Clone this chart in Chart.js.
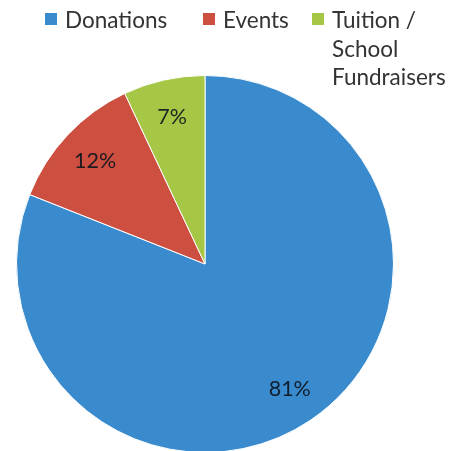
<!DOCTYPE html>
<html>
<head>
<meta charset="utf-8">
<script src="https://cdn.jsdelivr.net/npm/chart.js@4.4.1/dist/chart.umd.min.js"></script>
<style>
  html, body { margin: 0; padding: 0; background: #fff; overflow: hidden; }
  #wrap { position: relative; width: 453px; height: 460px; }
  #legend { position: absolute; left: 0; top: 0; font-family: Lato, sans-serif; font-size: 22.5px; color: #333; }
  #legend ul { list-style: none; margin: 0; padding: 0; }
  #legend li { position: absolute; white-space: nowrap; }
  #legend .box { position: absolute; left: 0; top: 0; width: 12px; height: 12px; }
  #legend p { margin: 0; position: absolute; left: 20px; top: -7px; line-height: 28.5px; }
</style>
</head>
<body>
<div id="wrap">
  <canvas id="chartPie" width="453" height="460"></canvas>
  <div id="legend"></div>
</div>
<script>
const labels = ["Donations", "Events", "Tuition / School Fundraisers"];
const legendLines = [["Donations"], ["Events"], ["Tuition /", "School", "Fundraisers"]];
const shares = [81, 12, 7];
const sliceColors = ["#3a8bcd", "#cd4f40", "#a6c645"];

// legend item positions (left, top of the colour box) in px
const legendPos = [[45, 13], [203, 13], [312, 13]];

const buildLegend = function () {
    const ul = document.createElement('ul');
    labels.forEach((item, i) => {
        const li = document.createElement('li');
        li.style.left = legendPos[i][0] + 'px';
        li.style.top = legendPos[i][1] + 'px';

        const boxSpan = document.createElement('span');
        boxSpan.classList = "box";
        boxSpan.style.background = sliceColors[i];

        const textContainer = document.createElement('p');
        textContainer.innerHTML = legendLines[i].join('<br>');

        li.appendChild(boxSpan);
        li.appendChild(textContainer);
        ul.appendChild(li);
    });
    document.getElementById('legend').appendChild(ul);
};

// draws "81%" etc inside each slice
const sliceLabelPlugin = {
    id: 'sliceLabels',
    afterDatasetsDraw(chart) {
        const ctx = chart.ctx;
        const meta = chart.getDatasetMeta(0);
        ctx.save();
        ctx.font = '21.5px Lato, sans-serif';
        ctx.fillStyle = 'rgba(10,20,30,0.9)';
        ctx.textAlign = 'center';
        ctx.textBaseline = 'middle';
        meta.data.forEach((arc, i) => {
            const p = arc.getProps(['x', 'y', 'startAngle', 'endAngle', 'outerRadius']);
            const mid = (p.startAngle + p.endAngle) / 2;
            const r = p.outerRadius * 0.8;
            ctx.fillText(shares[i] + '%', p.x + Math.cos(mid) * r, p.y + Math.sin(mid) * r);
        });
        ctx.restore();
    }
};

buildLegend();

new Chart(document.getElementById('chartPie'), {
    type: 'pie',
    data: {
        labels: labels,
        datasets: [{
            data: shares,
            backgroundColor: sliceColors,
            borderColor: '#ffffff',
            borderWidth: 1
        }]
    },
    options: {
        responsive: false,
        animation: false,
        layout: { padding: { left: 16, right: 59, top: 75, bottom: 7 } },
        plugins: {
            legend: { display: false },
            tooltip: { enabled: false }
        }
    },
    plugins: [sliceLabelPlugin]
});
</script>
</body>
</html>
